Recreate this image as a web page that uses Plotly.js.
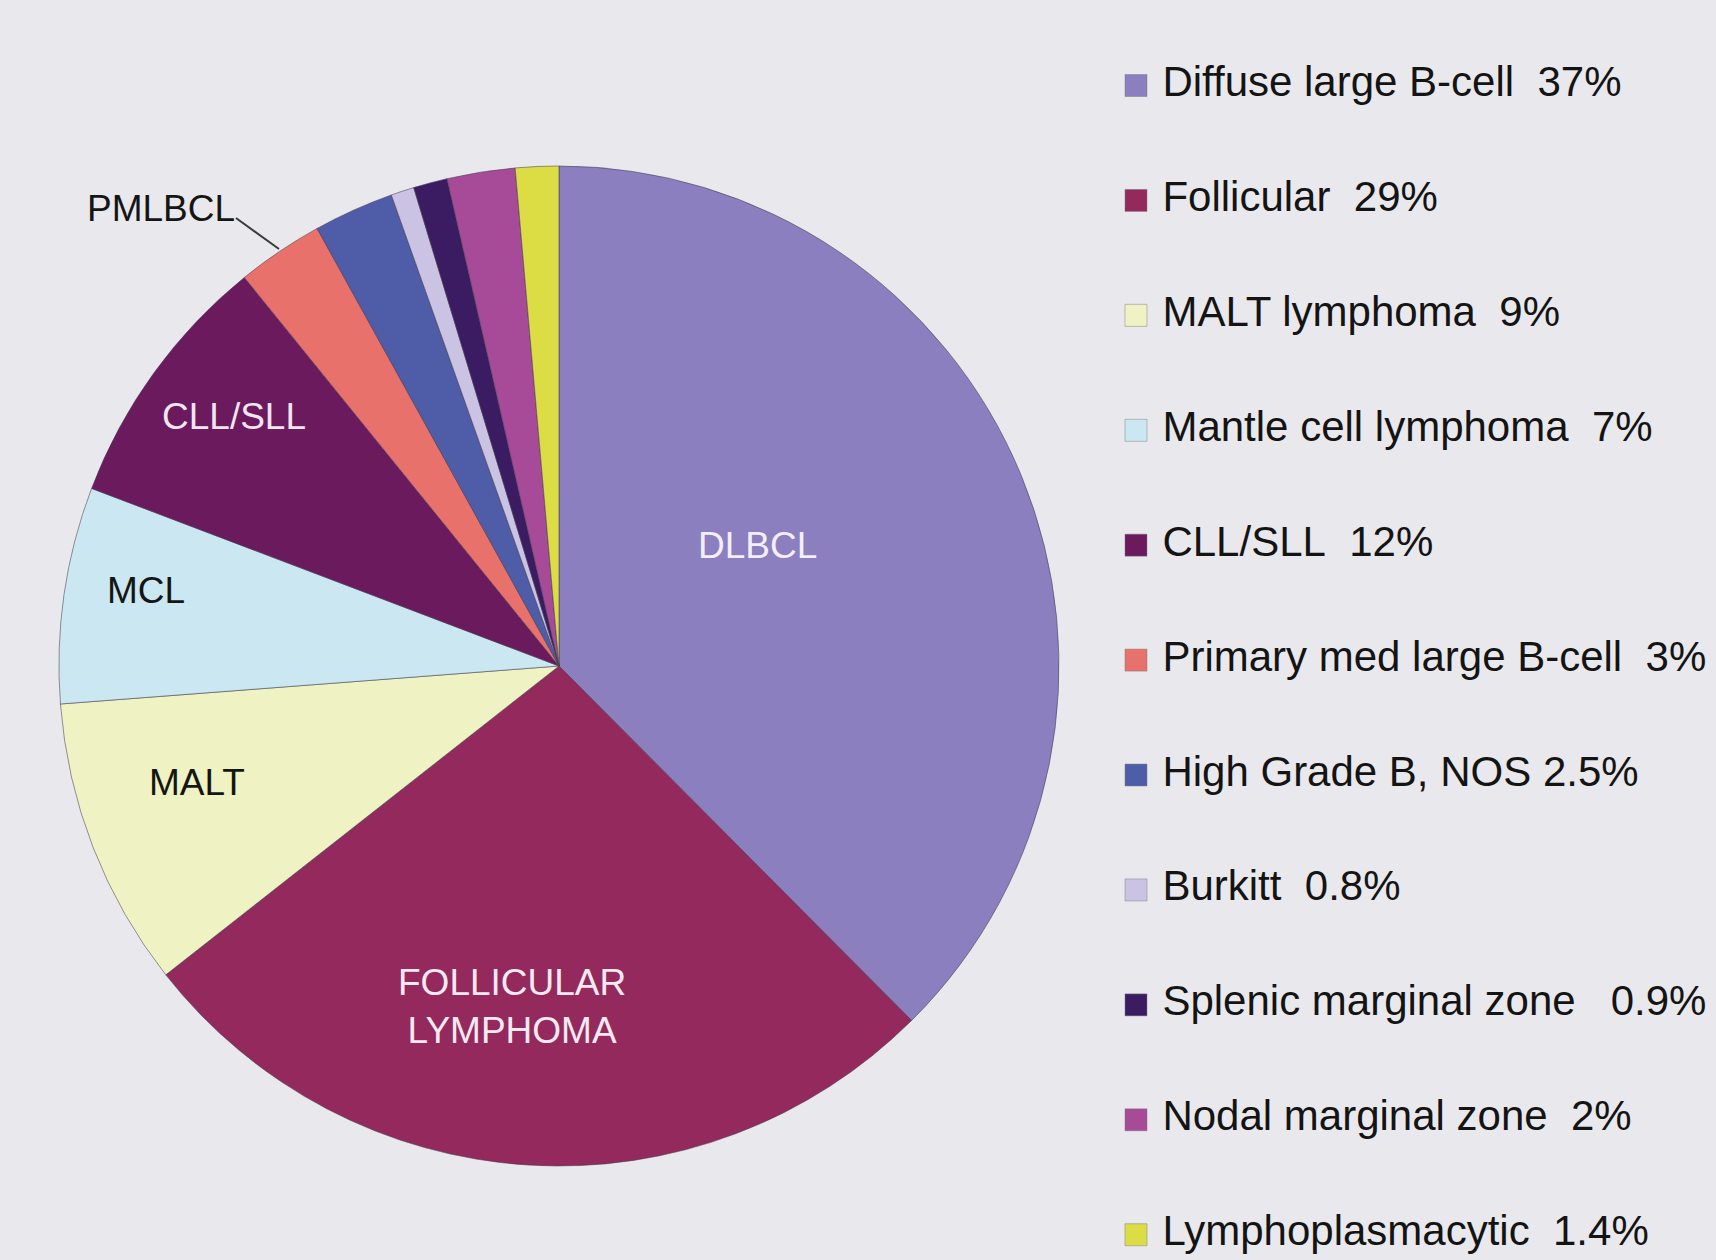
<!DOCTYPE html>
<html>
<head>
<meta charset="utf-8">
<script src="https://cdn.plot.ly/plotly-3.0.1.min.js"></script>
<style>
  html, body { margin: 0; padding: 0; background: #E9E9ED; }
  #chart { width: 1716px; height: 1260px; }
</style>
</head>
<body>
<div id="chart"></div>
<script>
// ---- data ----
const categories = [
  "Diffuse large B-cell", "Follicular", "MALT lymphoma", "Mantle cell lymphoma",
  "CLL/SLL", "Primary med large B-cell", "High Grade B, NOS", "Burkitt",
  "Splenic marginal zone", "Nodal marginal zone", "Lymphoplasmacytic"
];
// slice sizes as drawn in the pie (percent of the circle)
const sliceValues = [37.6, 26.9, 9.4, 7.0, 8.4, 2.8, 2.6, 0.75, 1.1, 2.2, 1.4];
// legend texts as printed
const legendLabels = [
  "Diffuse large B-cell\u00A0\u00A037%",
  "Follicular\u00A0\u00A029%",
  "MALT lymphoma\u00A0\u00A09%",
  "Mantle cell lymphoma\u00A0\u00A07%",
  "CLL/SLL\u00A0\u00A012%",
  "Primary med large B-cell\u00A0\u00A03%",
  "High Grade B, NOS 2.5%",
  "Burkitt\u00A0\u00A00.8%",
  "Splenic marginal zone\u00A0\u00A0\u00A00.9%",
  "Nodal marginal zone\u00A0\u00A02%",
  "Lymphoplasmacytic\u00A0\u00A01.4%"
];
const sliceColors = [
  "#8B7FBF", "#93295C", "#EFF2C2", "#CBE7F1", "#6B1A5E", "#E8716B",
  "#4F5CA8", "#CBC3E3", "#3B1C63", "#A74B98", "#DCDC45"
];
// short labels written on the pie
const pieLabelText = ["DLBCL", "FOLLICULAR<br>LYMPHOMA", "MALT", "MCL", "CLL/SLL", "PMLBCL"];

// ---- layout / style ----
const W = 1716, H = 1260;
const FONT = "Liberation Sans, Arial, Helvetica, sans-serif";
const pieLabelPos = [ // pixel positions of the label centres
  {x: 757, y: 545, color: "#F4EEFB"},
  {x: 512, y: 1006, color: "#F7E9F1"},
  {x: 197, y: 782, color: "#151515"},
  {x: 146, y: 590, color: "#151515"},
  {x: 234, y: 417, color: "#F2E4F1"},
  {x: 161, y: 209, color: "#151515"}
];
const leaderLine = { x0: 236, y0: 218, x1: 279, y1: 249 };

const pieTrace = {
  type: "pie",
  values: sliceValues,
  labels: categories,
  sort: false,
  direction: "clockwise",
  rotation: 0,
  textinfo: "none",
  hoverinfo: "label+percent",
  showlegend: false,
  marker: { colors: sliceColors, line: { color: "rgba(70,60,80,0.55)", width: 1 } },
  domain: { x: [59 / W, 1059 / W], y: [1 - 1166 / H, 1 - 166 / H] }
};

const legendIdx = categories.map((_, i) => i);
const legendTrace = {
  type: "scatter",
  mode: "markers+text",
  x: legendIdx.map(() => 0),
  y: legendIdx,
  text: legendLabels.map(s => "\u00A0" + s),
  textposition: "middle right",
  textfont: { family: FONT, size: 42, color: "#141414" },
  marker: { symbol: "square", size: 22, color: sliceColors,
            line: { color: "rgba(120,120,120,0.45)", width: 1 } },
  cliponaxis: false,
  hoverinfo: "skip",
  showlegend: false
};

const annotations = pieLabelText.map((t, i) => {
  const p = pieLabelPos[i];
  return {
    text: t, xref: "paper", yref: "paper",
    x: p.x / W, y: 1 - p.y / H, xanchor: "center", yanchor: "middle",
    showarrow: false, align: "center",
    font: { family: FONT, size: 37, color: p.color }
  };
});

const layout = {
  width: W, height: H,
  margin: { l: 0, r: 0, t: 0, b: 0 },
  paper_bgcolor: "#E9E9ED",
  plot_bgcolor: "rgba(0,0,0,0)",
  showlegend: false,
  xaxis: { domain: [0.662, 1], range: [0, 1], visible: false, fixedrange: true },
  yaxis: { domain: [0, 1], range: [10.22, -0.744], visible: false, fixedrange: true },
  annotations: annotations,
  shapes: [{
    type: "line", xref: "paper", yref: "paper",
    x0: leaderLine.x0 / W, y0: 1 - leaderLine.y0 / H,
    x1: leaderLine.x1 / W, y1: 1 - leaderLine.y1 / H,
    line: { color: "#3a3a3a", width: 2 }
  }],
  font: { family: FONT }
};

Plotly.newPlot("chart", [pieTrace, legendTrace], layout, { displayModeBar: false, staticPlot: true });
</script>
</body>
</html>
